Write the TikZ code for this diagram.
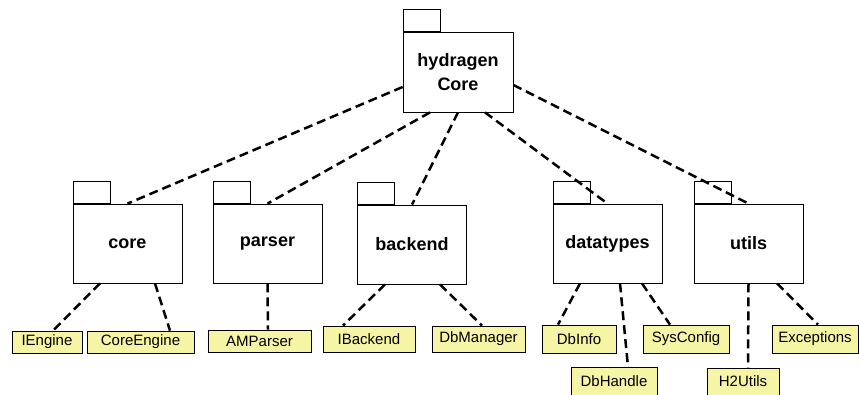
\documentclass[tikz,border=0pt]{standalone}
\usepackage{fontspec}
\setmainfont{Liberation Sans}
\definecolor{clsyellow}{RGB}{245,245,165}
\begin{document}
\begin{tikzpicture}[x=1pt, y=-1pt, thin,
  pkg/.style = {draw, line width=0.8pt, inner sep=0pt, minimum width=109pt, minimum height=79pt, align=center, font=\fontsize{18}{24}\selectfont\bfseries},
  tab/.style = {draw, line width=0.8pt, inner sep=0pt, minimum width=37pt, minimum height=22pt, anchor=south west},
  cls/.style = {draw, line width=0.8pt, fill=clsyellow, inner sep=0pt, font=\fontsize{15}{18}\selectfont},
  dep/.style = {dash pattern=on 9pt off 5pt, line width=2.5pt}]
  \useasboundingbox (0,0) rectangle (859,395);
  % packages
  \node[pkg, minimum width=110pt, minimum height=80pt] (hyd) at (458,72) {hydragen\\Core};
  \node[tab] (hydtab) at (hyd.north west) {};
  \node[pkg] (core) at (127.5,243.5) {core};
  \node[tab] (coretab) at (core.north west) {};
  \node[pkg] (parser) at (267.5,243.5) {parser};
  \node[tab] (parsertab) at (parser.north west) {};
  \node[pkg] (backend) at (412,244.5) {backend};
  \node[tab] (backendtab) at (backend.north west) {};
  \node[pkg] (datatypes) at (607.5,243.5) {datatypes};
  \node[tab] (datatypestab) at (datatypes.north west) {};
  \node[pkg] (utils) at (748.5,243.5) {utils};
  \node[tab] (utilstab) at (utils.north west) {};
  % classes
  \node[cls, minimum width=70pt, minimum height=22pt] (iengine) at (47,342) {IEngine};
  \node[cls, minimum width=107pt, minimum height=22pt] (coreengine) at (140.5,342) {CoreEngine};
  \node[cls, minimum width=103pt, minimum height=22pt] (amparser) at (259.5,341) {AMParser};
  \node[cls, minimum width=92pt, minimum height=26pt] (ibackend) at (369,339) {IBackend};
  \node[cls, minimum width=93pt, minimum height=26pt] (dbmanager) at (478.5,339) {DbManager};
  \node[cls, minimum width=74pt, minimum height=28pt] (dbinfo) at (579,339) {DbInfo};
  \node[cls, minimum width=86pt, minimum height=28pt] (dbhandle) at (614,381.5) {DbHandle};
  \node[cls, minimum width=86pt, minimum height=28pt] (sysconfig) at (686,339) {SysConfig};
  \node[cls, minimum width=72pt, minimum height=27pt] (h2utils) at (743,381.5) {H2Utils};
  \node[cls, minimum width=86pt, minimum height=28pt] (exceptions) at (815,339) {Exceptions};
  % dependencies
  \draw[dep] ([yshift=-15pt]hyd.west) -- (core.north);
  \draw[dep] ([xshift=-28pt]hyd.south) -- (parser.north);
  \draw[dep] (hyd.south) -- (backend.north);
  \draw[dep] ([xshift=27pt]hyd.south) -- (datatypes.north);
  \draw[dep] ([yshift=-13pt]hyd.east) -- (utils.north);
  \draw[dep] ([xshift=-27.5pt]core.south) -- ([xshift=6pt]iengine.north);
  \draw[dep] ([xshift=27.5pt]core.south) -- ([xshift=29.5pt]coreengine.north);
  \draw[dep] (parser.south) -- ([xshift=8.5pt]amparser.north);
  \draw[dep] ([xshift=-27pt]backend.south) -- ([xshift=-26pt]ibackend.north);
  \draw[dep] ([xshift=28pt]backend.south) -- ([xshift=3.5pt]dbmanager.north);
  \draw[dep] ([xshift=-27.5pt]datatypes.south) -- ([xshift=-21pt]dbinfo.north);
  \draw[dep] ([xshift=12.5pt]datatypes.south) -- ([xshift=14pt]dbhandle.north);
  \draw[dep] ([xshift=34.5pt]datatypes.south) -- ([xshift=-16pt]sysconfig.north);
  \draw[dep] (utils.south) -- ([xshift=5pt]h2utils.north);
  \draw[dep] ([xshift=28.5pt]utils.south) -- ([xshift=3pt]exceptions.north);
\end{tikzpicture}
\end{document}
